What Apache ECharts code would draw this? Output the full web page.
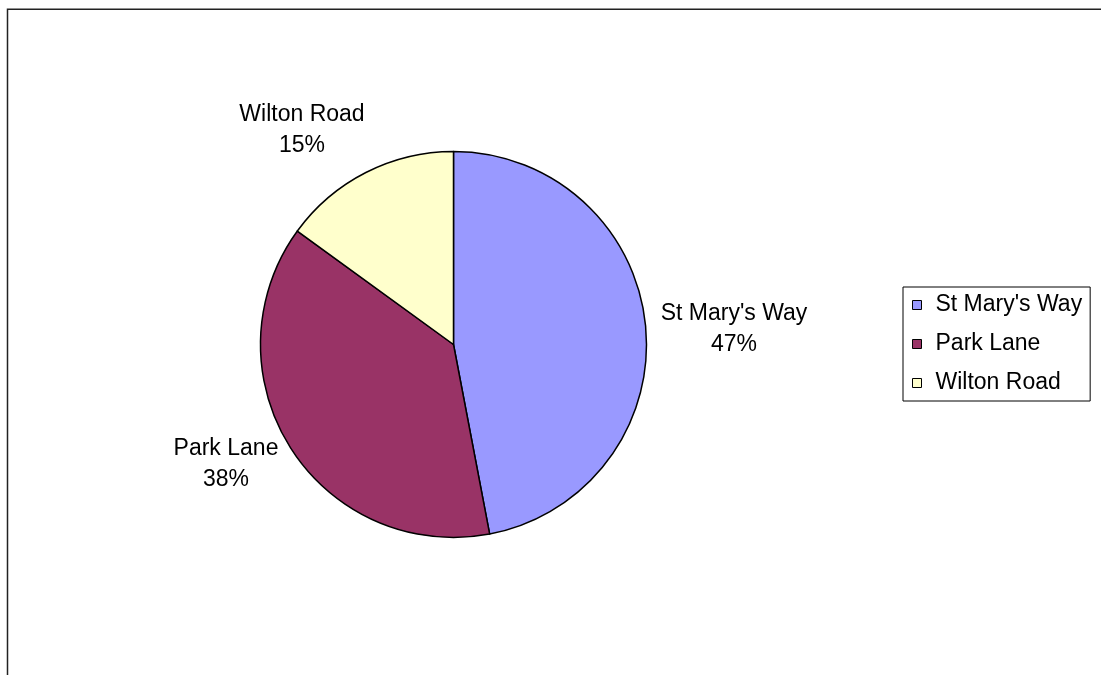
<!DOCTYPE html>
<html>
<head>
<meta charset="utf-8">
<script src="https://cdn.jsdelivr.net/npm/echarts@6/dist/echarts.min.js"></script>
<style>
  html, body { margin: 0; padding: 0; background: #fff; }
  #chart { width: 1101px; height: 675px; }
</style>
</head>
<body>
<div id="chart"></div>
<script>
// Share of the total by location
const categories = ["St Mary's Way", 'Park Lane', 'Wilton Road'];
const shares = [47, 38, 15];
const sliceColors = ['#9999FF', '#993366', '#FFFFCC'];

// Label anchor points (centre of each two-line label)
const labelAnchors = [[734, 329], [226, 464], [302, 130]];

const chart = echarts.init(document.getElementById('chart'), null, { renderer: 'canvas' });

const font = 'Liberation Sans, Arial, sans-serif';

chart.setOption({
  animation: false,
  backgroundColor: '#ffffff',
  graphic: [{
    type: 'rect',
    shape: { x: 7.5, y: 9.25, width: 1110, height: 700 },
    style: { fill: 'none', stroke: '#222', lineWidth: 1.5 },
    silent: true
  }],
  legend: {
    orient: 'vertical',
    left: 903,
    top: 287,
    data: categories,
    icon: 'rect',
    itemWidth: 9,
    itemHeight: 9,
    itemGap: 13,
    padding: [5, 8, 5, 9],
    borderColor: '#000',
    borderWidth: 1,
    backgroundColor: '#fff',
    itemStyle: { borderColor: '#000', borderWidth: 1 },
    textStyle: {
      fontFamily: font,
      fontSize: 23,
      lineHeight: 26,
      color: '#000',
      padding: [0, 0, 0, 9]
    }
  },
  series: [{
    type: 'pie',
    center: [453.5, 344.5],
    radius: 193,
    startAngle: 90,
    clockwise: true,
    avoidLabelOverlap: false,
    itemStyle: { borderColor: '#000', borderWidth: 1.5 },
    label: {
      show: true,
      position: 'outside',
      formatter: p => p.name + '\n' + p.value + '%',
      fontFamily: font,
      fontSize: 23,
      lineHeight: 31,
      color: '#000',
      align: 'center'
    },
    labelLine: { show: false },
    labelLayout: p => ({
      x: labelAnchors[p.dataIndex][0],
      y: labelAnchors[p.dataIndex][1],
      align: 'center',
      verticalAlign: 'middle'
    }),
    emphasis: { disabled: true },
    data: categories.map((name, i) => ({
      name,
      value: shares[i],
      itemStyle: { color: sliceColors[i] }
    }))
  }]
});
</script>
</body>
</html>
